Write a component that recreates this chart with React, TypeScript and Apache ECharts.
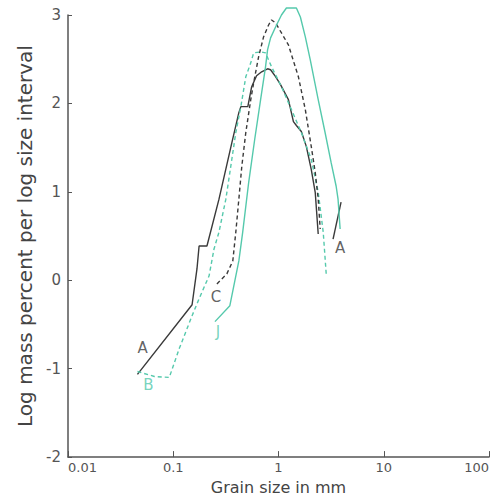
import React, { useEffect, useRef } from "react";
import * as echarts from "echarts";

const BLACK = "#3a3a3a";
const TEAL = "#55c9ac";

// Curve A (black solid), fine part
const curveA: [number, number][] = [
  [0.0457, -1.065], [0.151, -0.277], [0.168, 0.128], [0.176, 0.387], [0.209, 0.387],
  [0.272, 0.917], [0.361, 1.559], [0.42, 1.896], [0.439, 1.964], [0.511, 1.964],
  [0.556, 2.189], [0.619, 2.313], [0.692, 2.358], [0.787, 2.392], [0.841, 2.381],
  [0.938, 2.302], [1.045, 2.212], [1.242, 2.043], [1.386, 1.795], [1.479, 1.75],
  [1.648, 1.682], [1.837, 1.514], [2.047, 1.255], [2.233, 0.995], [2.384, 0.523],
];
// Curve A, coarse fragment
const curveA2: [number, number][] = [
  [3.3, 0.466], [3.93, 0.883],
];
// Curve B (teal dashed)
const curveB: [number, number][] = [
  [0.0457, -1.032], [0.0662, -1.088], [0.0917, -1.099], [0.114, -0.773], [0.151, -0.401],
  [0.176, -0.209], [0.219, 0.05], [0.244, 0.354], [0.272, 0.545], [0.316, 0.917],
  [0.352, 1.288], [0.393, 1.671], [0.439, 1.964], [0.489, 2.302], [0.545, 2.459],
  [0.581, 2.572], [0.676, 2.583], [0.753, 2.572], [0.859, 2.414], [1.067, 2.189],
  [1.327, 1.93], [1.648, 1.671], [2.047, 1.367], [2.384, 0.995], [2.66, 0.545], [2.84, 0.072],
];
// Curve C (black dashed)
const curveC: [number, number][] = [
  [0.26, -0.041], [0.323, 0.072], [0.368, 0.219], [0.393, 0.545], [0.42, 0.917],
  [0.448, 1.288], [0.489, 1.671], [0.545, 2.043], [0.581, 2.234], [0.647, 2.527],
  [0.721, 2.752], [0.805, 2.887], [0.859, 2.944], [0.938, 2.91], [1.067, 2.797],
  [1.242, 2.662], [1.545, 2.302], [1.798, 1.93], [2.047, 1.514], [2.233, 1.221],
  [2.384, 0.917], [2.49, 0.579],
];
// Curve J (teal solid)
const curveJ: [number, number][] = [
  [0.249, -0.468], [0.345, -0.288], [0.42, 0.219], [0.457, 0.545], [0.521, 1.108],
  [0.594, 1.592], [0.676, 2.043], [0.753, 2.414], [0.787, 2.606], [0.841, 2.741],
  [0.938, 2.865], [1.067, 3.0], [1.189, 3.079], [1.479, 3.079], [1.614, 2.977],
  [1.798, 2.752], [2.004, 2.493], [2.384, 2.043], [2.77, 1.671], [3.16, 1.333],
  [3.53, 1.063], [3.68, 0.917], [3.85, 0.579],
];

const blackLabels: [number, number, string][] = [
  [0.0511, -0.761, "A"], [0.255, -0.187, "C"], [3.85, 0.365, "A"],
];
const tealLabels: [number, number, string][] = [
  [0.0581, -1.189, "B"], [0.266, -0.581, "J"],
];

const xTicks = ["0.01", "0.1", "1", "10", "100"];
const FONT = "DejaVu Sans";

export default function App() {
  const ref = useRef<HTMLDivElement>(null);
  useEffect(() => {
    if (!ref.current) return;
    const chart = echarts.init(ref.current, undefined, { renderer: "svg" });
    const lineSeries = (data: [number, number][], color: string, dashed: boolean) => ({
      type: "line",
      data,
      symbol: "none",
      clip: false,
      lineStyle: { color, width: 1.4, type: dashed ? [4, 3] : "solid" },
      z: 3,
    });
    const labelSeries = (items: [number, number, string][], color: string) => ({
      type: "scatter",
      symbolSize: 0,
      clip: false,
      data: items.map((d) => ({ value: [d[0], d[1]], name: d[2] })),
      label: {
        show: true,
        position: "inside",
        formatter: (p: any) => p.name,
        color,
        fontFamily: FONT,
        fontSize: 15,
      },
      z: 4,
    });
    chart.setOption({
      animation: false,
      backgroundColor: "#fff",
      grid: { left: 68, right: 1, top: 15, bottom: 41 },
      xAxis: {
        type: "log",
        logBase: 10,
        min: 0.01,
        max: 100,
        name: "Grain size in mm",
        nameLocation: "middle",
        nameGap: 21,
        nameTextStyle: { color: "#444", fontFamily: FONT, fontSize: 16 },
        axisLine: { onZero: false, lineStyle: { color: "#555", width: 1.5 } },
        axisTick: { inside: true, length: 6, lineStyle: { color: "#555" } },
        minorTick: { show: false },
        splitLine: { show: false },
        axisLabel: {
          color: "#555",
          fontFamily: FONT,
          fontSize: 13,
          margin: 4,
          alignMinLabel: "left",
          alignMaxLabel: "right",
          formatter: (v: number) => {
            const i = Math.round(Math.log10(v)) + 2;
            return xTicks[i] ?? String(v);
          },
        },
      },
      yAxis: {
        type: "value",
        min: -2,
        max: 3,
        interval: 1,
        name: "Log mass percent per log size interval",
        nameLocation: "middle",
        nameGap: 27,
        nameTextStyle: { color: "#444", fontFamily: FONT, fontSize: 20 },
        axisLine: { show: true, onZero: false, lineStyle: { color: "#555", width: 1.5 } },
        axisTick: { show: true, inside: true, length: 4, lineStyle: { color: "#555" } },
        splitLine: { show: false },
        axisLabel: { color: "#555", fontFamily: FONT, fontSize: 15, margin: 7 },
      },
      series: [
        lineSeries(curveA, BLACK, false),
        lineSeries(curveA2, BLACK, false),
        lineSeries(curveB, TEAL, true),
        lineSeries(curveC, BLACK, true),
        lineSeries(curveJ, TEAL, false),
        labelSeries(blackLabels, BLACK),
        labelSeries(tealLabels, TEAL),
      ],
    });
    return () => chart.dispose();
  }, []);
  return (
    <div
      ref={ref}
      style={{ position: "fixed", left: 0, top: 0, width: 492, height: 500, background: "#fff" }}
    />
  );
}
